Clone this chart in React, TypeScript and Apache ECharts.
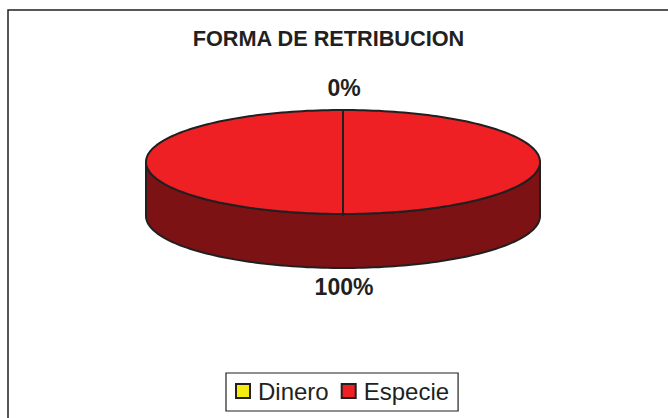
import React, { useEffect, useRef } from "react";
import * as echarts from "echarts";

const titleText = "FORMA DE RETRIBUCION";
const categories = ["Dinero", "Especie"];
const shares = [0, 100];
const topColors = ["#f6ec0f", "#ee2024"];
const sideColors = ["#7b7607", "#7c1214"];
const FONT = "'Liberation Sans', Arial, sans-serif";
const INK = "#231f20";

const CX = 343, CY = 162, RX = 197, RY = 52, DEPTH = 54;
const STEPS = 240;
const total = shares.reduce((a, b) => a + b, 0);

function pt(frac: number, dy = 0) {
  const a = frac * 2 * Math.PI;
  return [CX + RX * Math.sin(a), CY - RY * Math.cos(a) + dy];
}

function arc(from: number, to: number, dy = 0) {
  const n = Math.max(2, Math.ceil((to - from) * STEPS));
  const out: number[][] = [];
  for (let i = 0; i <= n; i++) out.push(pt(from + ((to - from) * i) / n, dy));
  return out;
}

function makeRender(index: number) {
  const from = shares.slice(0, index).reduce((a, b) => a + b, 0) / total;
  return (_params: any, api: any) => {
    const value = api.value(0) as number;
    const to = from + value / total;
    const children: any[] = [];
    const stroke = { stroke: INK, lineWidth: 2 };
    if (value > 0) {
      const a = Math.max(from, 0.25);
      const b = Math.min(to, 0.75);
      if (b > a) {
        children.push({
          type: "polygon",
          shape: { points: [...arc(a, b), ...arc(a, b, DEPTH).reverse()] },
          style: { fill: sideColors[index], ...stroke },
        });
      }
      const whole = to - from >= 1;
      children.push({
        type: "polygon",
        shape: { points: whole ? arc(from, to) : [[CX, CY], ...arc(from, to)] },
        style: { fill: topColors[index], ...stroke },
      });
      children.push({
        type: "line",
        shape: { x1: CX, y1: CY - RY, x2: CX, y2: CY + RY + 2 },
        style: { ...stroke },
      });
    }
    children.push({
      type: "text",
      x: CX + 1,
      y: value === 0 ? 88 : 287,
      style: {
        text: `${value}%`,
        fill: INK,
        font: `bold 23px ${FONT}`,
        align: "center",
        verticalAlign: "middle",
      },
    });
    return { type: "group", children };
  };
}

export default function App() {
  const ref = useRef<HTMLDivElement>(null);
  useEffect(() => {
    const chart = echarts.init(ref.current!, undefined, { renderer: "svg" });
    chart.setOption({
      animation: false,
      backgroundColor: "#ffffff",
      title: {
        text: titleText,
        left: 323.5,
        top: 22,
        textAlign: "center",
        textStyle: { fontFamily: FONT, fontSize: 21.7, fontWeight: "bold", color: INK },
      },
      legend: {
        left: 226,
        top: 373,
        padding: [6, 9, 8, 9],
        orient: "horizontal",
        borderColor: INK,
        borderWidth: 1.2,
        backgroundColor: "#fff",
        itemWidth: 14,
        itemHeight: 14,
        itemGap: 12,
        icon: "rect",
        data: categories,
        itemStyle: { borderColor: INK, borderWidth: 2 },
        textStyle: { fontFamily: FONT, fontSize: 24, color: INK, padding: [0, 0, 0, 3] },
      },
      series: categories.map((name, i) => ({
        type: "custom",
        name,
        coordinateSystem: "none",
        data: [[shares[i]]],
        renderItem: makeRender(i),
        itemStyle: { color: topColors[i], borderColor: INK, borderWidth: 2 },
        z: i === 1 ? 2 : 3,
      })),
      graphic: [
        {
          type: "rect",
          silent: true,
          z: -1,
          shape: { x: 8, y: 10, width: 700, height: 500 },
          style: { fill: "#fff", stroke: INK, lineWidth: 1.5 },
        },
      ],
    });
    return () => chart.dispose();
  }, []);
  return <div ref={ref} style={{ width: 668, height: 418, position: "absolute", left: 0, top: 0 }} />;
}
